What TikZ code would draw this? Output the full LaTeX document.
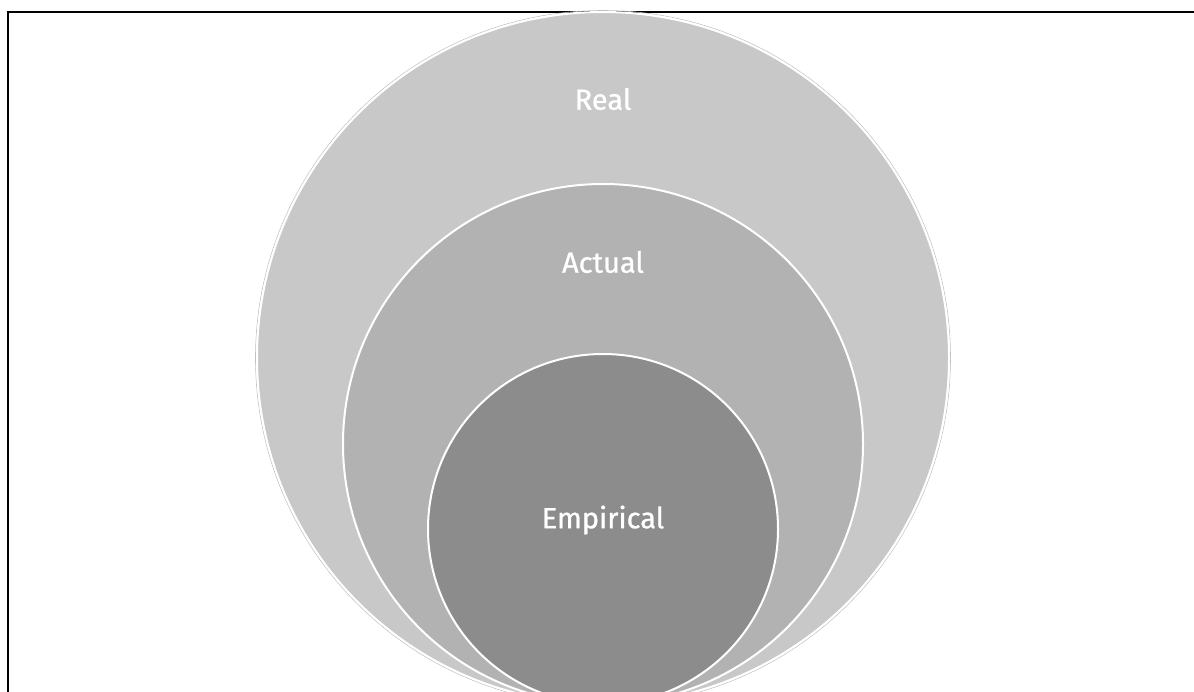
\documentclass[tikz,border=0pt]{standalone}
\usepackage{fontspec}
\setmainfont{Fira Sans}
\newfontfamily\ringfont[FakeBold=0.9]{Fira Sans}

\definecolor{realgray}{RGB}{200,200,200}
\definecolor{actualgray}{RGB}{178,178,178}
\definecolor{empgray}{RGB}{140,140,140}

\tikzset{
  ring/.style={draw=white, line width=2pt},
  ringlabel/.style={text=white, font=\ringfont\fontsize{29}{32}\selectfont},
}

\begin{document}
\begin{tikzpicture}[x=1pt,y=-1pt]

  \useasboundingbox (0,0) rectangle (1194,691);
  \clip (0,0) rectangle (1194,691);

  % frame
  \draw[line width=2.5pt] (8,1200) -- (8,12) -- (1300,12);

  % nested circles, all touching at the bottom
  \draw[gray!50, line width=0.6pt] (603,358) circle (347.5);
  \filldraw[ring, fill=realgray] (603,358) circle (346);
  \filldraw[ring, fill=actualgray] (603,444) circle (260);
  \filldraw[ring, fill=empgray] (603,529) circle (175);

  % labels
  \node[ringlabel] (real) at (603,99) {Real};
  \node[ringlabel] (actual) at (603,262) {Actual};
  \node[ringlabel] (empirical) at (603,520) {Empirical};
\end{tikzpicture}
\end{document}
